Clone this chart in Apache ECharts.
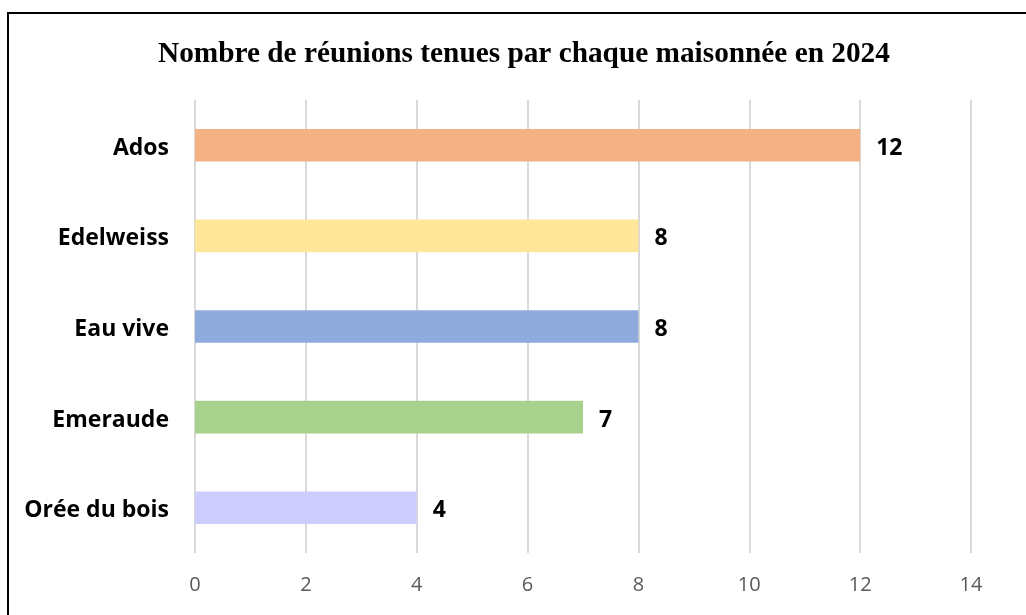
<!DOCTYPE html>
<html>
<head>
<meta charset="utf-8">
<script src="https://cdn.jsdelivr.net/npm/echarts@6/dist/echarts.min.js"></script>
<style>
  html, body { margin: 0; padding: 0; background: #ffffff; }
  #chart { width: 1026px; height: 615px; }
</style>
</head>
<body>
<div id="chart"></div>
<script>
// data, bottom to top as in the picture
var categories = ["Orée du bois", "Emeraude", "Eau vive", "Edelweiss", "Ados"];
var values = [4, 7, 8, 8, 12];
var barColors = ["#CCCCFF", "#A9D18E", "#8FAADC", "#FFE699", "#F4B183"];
var xTicks = [0, 2, 4, 6, 8, 10, 12, 14];

var chart = echarts.init(document.getElementById("chart"));

chart.setOption({
  backgroundColor: "#ffffff",
  animation: false,
  graphic: [
    {
      type: "rect",
      shape: { x: 8, y: 13, width: 1100, height: 700 },
      style: { fill: "none", stroke: "#000000", lineWidth: 2 }
    }
  ],
  title: {
    text: "Nombre de réunions tenues par chaque maisonnée en 2024",
    left: 153,
    top: 35,
    textStyle: {
      fontFamily: "Liberation Serif",
      fontWeight: "bold",
      fontSize: 29.3,
      color: "#000000"
    }
  },
  grid: {
    left: 195,
    right: 55,
    top: 100,
    bottom: 62
  },
  xAxis: {
    type: "value",
    min: xTicks[0],
    max: xTicks[xTicks.length - 1],
    interval: 2,
    axisLine: { show: false },
    axisTick: { show: false },
    axisLabel: {
      margin: 22,
      fontFamily: "Open Sans",
      fontSize: 20,
      color: "#595959"
    },
    splitLine: {
      lineStyle: { color: "#d9d9d9", width: 2 }
    }
  },
  yAxis: {
    type: "category",
    data: categories,
    axisLine: { show: false },
    axisTick: { show: false },
    axisLabel: {
      margin: 26,
      fontFamily: "Open Sans",
      fontWeight: "bold",
      fontSize: 23,
      color: "#000000",
      rich: {
        c: { fontFamily: "Open Sans", fontWeight: "bold", fontSize: 23, color: "#000000", padding: [6, 0, 0, 0] }
      },
      formatter: function (v) { return "{c|" + v + "}"; }
    }
  },
  series: [
    {
      type: "bar",
      barWidth: "36%",
      data: values.map(function (v, i) {
        return { value: v, itemStyle: { color: barColors[i] } };
      }),
      label: {
        show: true,
        position: "right",
        distance: 16,
        offset: [0, 3],
        fontFamily: "Open Sans",
        fontWeight: "bold",
        fontSize: 23,
        color: "#000000"
      }
    }
  ]
});
</script>
</body>
</html>
